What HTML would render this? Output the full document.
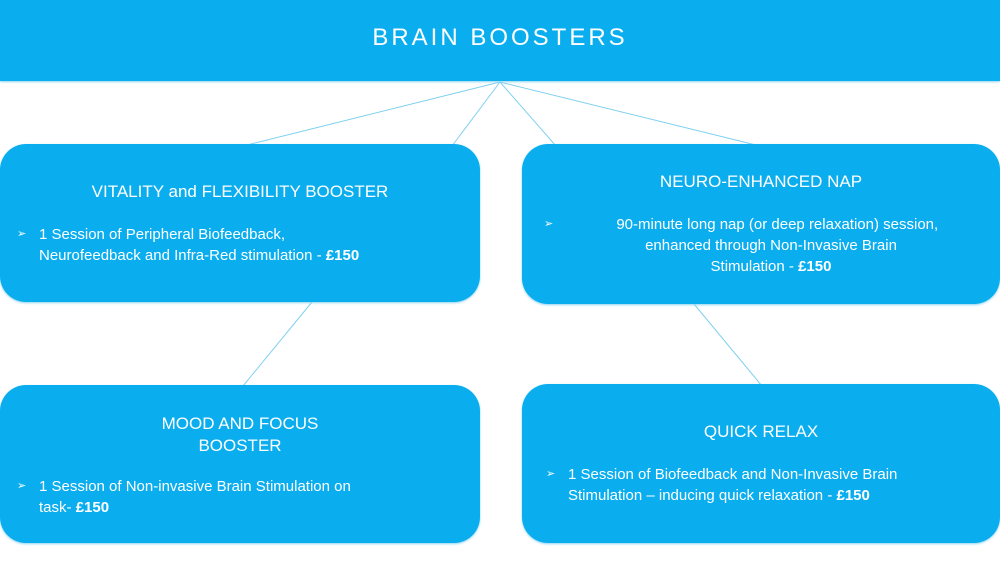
<!DOCTYPE html>
<html><head><meta charset="utf-8"><style>
body{margin:0;width:1000px;height:563px;background:#fff;position:relative;overflow:hidden;font-family:"Liberation Sans",sans-serif;color:#fff}
.hdr{position:absolute;left:0;top:0;width:1000px;height:81px;background:#0aaeef;box-shadow:0 1px 2px #8fd3f0}
.hdr div{position:absolute;left:0;width:1000px;top:24px;text-align:center;font-size:24px;letter-spacing:3px}
.box{position:absolute;background:#0aaeef;border-radius:26px;box-shadow:0 1px 2px #8fd3f0}
.t{position:absolute;left:0;right:0;text-align:center;font-size:17px}
.b{position:absolute;font-size:15px;line-height:21px}
.b span.m{position:absolute;left:-22px;top:0;font-size:11px}
</style></head><body>
<svg width="1000" height="563" style="position:absolute;left:0;top:0">
<g stroke="#7fd0f0" stroke-width="1" fill="none">
<line x1="500" y1="82" x2="243" y2="146"/><line x1="500" y1="82" x2="452" y2="146"/>
<line x1="500" y1="82" x2="556" y2="146"/><line x1="500" y1="82" x2="760" y2="146"/>
<line x1="312" y1="302" x2="243" y2="386"/><line x1="694" y1="304" x2="762" y2="386"/>
</g></svg>
<div class="hdr"><div>BRAIN BOOSTERS</div></div>
<div class="box" style="left:0;top:144px;width:480px;height:158px">
<div class="t" style="top:38px">VITALITY and FLEXIBILITY BOOSTER</div>
<div class="b" style="left:39px;top:80px;width:440px"><span class="m">➢</span>1 Session of Peripheral Biofeedback,<br>Neurofeedback and Infra-Red stimulation - <b>£150</b></div>
</div>
<div class="box" style="left:522px;top:144px;width:478px;height:160px">
<div class="t" style="top:28px">NEURO-ENHANCED NAP</div>
<div class="b" style="left:24px;top:70px;width:450px;text-align:center"><span class="m" style="left:-2px">➢</span>&nbsp;&nbsp;&nbsp;90-minute long nap (or deep relaxation) session,<br>enhanced through Non-Invasive Brain<br>Stimulation - <b>£150</b></div>
</div>
<div class="box" style="left:0;top:385px;width:480px;height:158px">
<div class="t" style="top:28px;line-height:22px">MOOD AND FOCUS<br>BOOSTER</div>
<div class="b" style="left:39px;top:91px;width:430px"><span class="m">➢</span>1 Session of Non-invasive Brain Stimulation on<br>task- <b>£150</b></div>
</div>
<div class="box" style="left:522px;top:384px;width:478px;height:159px">
<div class="t" style="top:38px">QUICK RELAX</div>
<div class="b" style="left:46px;top:80px;width:430px"><span class="m">➢</span>1 Session of Biofeedback and Non-Invasive Brain<br>Stimulation – inducing quick relaxation - <b>£150</b></div>
</div>
</body></html>
